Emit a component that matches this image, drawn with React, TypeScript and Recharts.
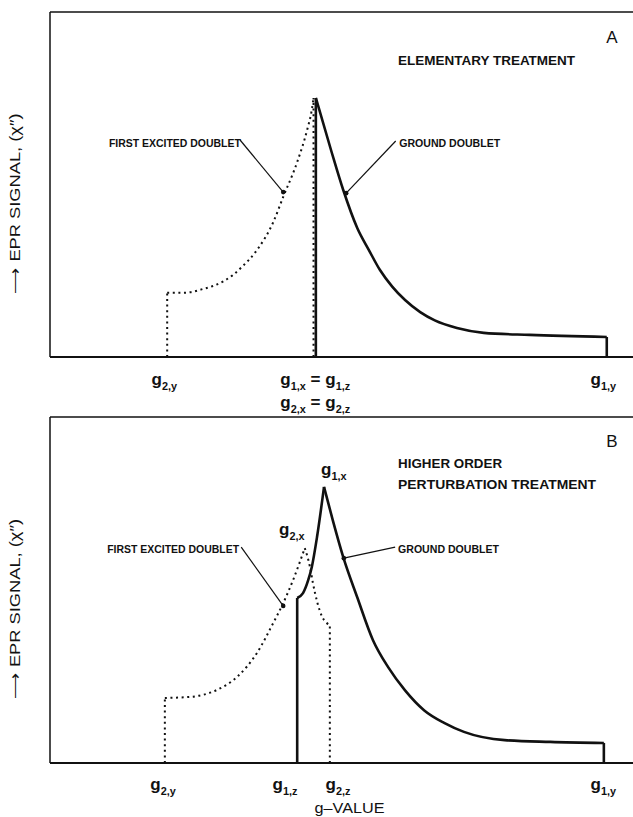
import React from 'react';
import { ComposedChart, Line, XAxis, YAxis, ReferenceLine, ReferenceDot, Label } from 'recharts';

const INK = '#111';
const FONT = "'Liberation Sans Narrow', 'Liberation Sans', Arial, sans-serif";
const MATH_FONT = "'Liberation Sans', Arial, sans-serif";

// x: position along the g-value axis, 0 = left frame, 100 = right page edge
// y: EPR signal in % of the frame height

// panel A — elementary treatment
const A_EXC_RISE_X = [20.1, 22.3, 24.2, 26.2, 28.0, 29.8, 31.4, 32.9, 35.5, 38.3, 40.0, 42.4, 44.1, 44.9, 45.2];
const A_EXC_RISE_Y = [18.6, 18.6, 18.8, 19.7, 20.6, 22.0, 23.8, 26.1, 31.0, 39.1, 46.4, 56.5, 65.8, 71.6, 75.1];
const A_GND_FALL_X = [45.6, 48.2, 50.3, 52.7, 54.7, 56.6, 58.7, 60.9, 63.5, 66.0, 69.8, 74.4, 82.3, 95.5];
const A_GND_FALL_Y = [75.1, 60.0, 48.4, 37.4, 31.0, 25.2, 20.4, 16.5, 13.0, 10.6, 8.4, 7.0, 6.4, 5.8];
const A_TICKS = [19.6, 45.5, 94.9];
const A_TICK_LABELS = ['g_{2,y}', 'g_{1,x} = g_{1,z}|g_{2,x} = g_{2,z}', 'g_{1,y}'];

// panel B — higher order perturbation treatment
const B_EXC_RISE_X = [19.7, 24.0, 28.6, 32.1, 35.5, 38.3, 40.0, 41.7, 43.7];
const B_EXC_RISE_Y = [18.8, 19.1, 21.1, 24.9, 31.8, 40.5, 46.2, 52.9, 62.1];
const B_EXC_FALL_X = [43.7, 44.6, 45.1, 46.7, 48.0];
const B_EXC_FALL_Y = [62.1, 56.6, 52.0, 42.2, 39.9];
const B_GND_RISE_X = [42.4, 43.4, 44.3, 44.9, 45.8, 47.0];
const B_GND_RISE_Y = [47.7, 49.1, 52.9, 56.6, 65.3, 79.8];
const B_GND_FALL_X = [47.0, 48.5, 50.3, 52.7, 55.4, 58.0, 60.9, 64.2, 67.6, 71.0, 78.0, 85.8, 95.0];
const B_GND_FALL_Y = [79.8, 70.2, 59.5, 47.9, 35.5, 27.7, 21.0, 15.2, 11.6, 9.0, 6.6, 6.1, 5.8];
const B_TICKS = [19.4, 40.3, 49.4, 94.9];
const B_TICK_LABELS = ['g_{2,y}', 'g_{1,z}', 'g_{2,z}', 'g_{1,y}'];

type Pt = { x: number; y: number };
type Note = { x: number; y: number; text: string; size: number; width?: number; anchor?: string; bold?: boolean; math?: boolean };

const A_NOTES: Note[] = [
  { x: 96.4, y: 91.0, text: 'A', size: 17, anchor: 'middle', bold: false },
  { x: 59.7, y: 84.6, text: 'ELEMENTARY  TREATMENT', size: 13, width: 177 },
  { x: 10.1, y: 60.9, text: 'FIRST EXCITED DOUBLET', size: 11, width: 132 },
  { x: 59.9, y: 60.9, text: 'GROUND DOUBLET', size: 11, width: 101 },
];
const A_ARROWS = [
  [32.6, 62.9, 40.0, 47.8],
  [59.3, 62.6, 50.8, 47.5],
];

const B_NOTES: Note[] = [
  { x: 96.4, y: 91.3, text: 'B', size: 17, anchor: 'middle', bold: false },
  { x: 59.7, y: 85.3, text: 'HIGHER  ORDER', size: 13, width: 104 },
  { x: 59.7, y: 79.2, text: 'PERTURBATION  TREATMENT', size: 13, width: 198 },
  { x: 46.5, y: 83.2, text: 'g_{1,x}', size: 17, math: true },
  { x: 39.3, y: 65.9, text: 'g_{2,x}', size: 17, math: true },
  { x: 9.8, y: 60.7, text: 'FIRST EXCITED DOUBLET', size: 11, width: 132 },
  { x: 59.7, y: 60.7, text: 'GROUND DOUBLET', size: 11, width: 101 },
];
const B_ARROWS = [
  [32.8, 62.4, 40.0, 45.4],
  [59.2, 62.4, 50.4, 59.2],
];

const zip = (xs: number[], ys: number[]): Pt[] => xs.map((x, i) => ({ x, y: ys[i] }));
const drop = (p: Pt): Pt[] => [{ x: p.x, y: 0 }, p];
const last = (a: Pt[]) => a[a.length - 1];

function mathSpans(s: string, size: number) {
  const re = /_\{([^}]*)\}|([^_]+)/g;
  const out: React.ReactNode[] = [];
  let m: RegExpExecArray | null;
  let lowered = false;
  let k = 0;
  const shift = size * 0.28;
  while ((m = re.exec(s))) {
    if (m[1] !== undefined) {
      out.push(<tspan key={k++} fontSize={size * 0.64} dy={shift}>{m[1]}</tspan>);
      lowered = true;
    } else {
      out.push(<tspan key={k++} dy={lowered ? -shift : 0}>{m[2]}</tspan>);
      lowered = false;
    }
  }
  return out;
}

type Trace = { pts: Pt[]; dotted?: boolean; curve?: boolean };

function Panel(props: {
  height: number;
  top: number;
  axisH: number;
  traces: Trace[];
  ticks: number[];
  tickLabels: string[];
  tickDy: number;
  notes: Note[];
  arrows: number[][];
  xLabel?: string;
}) {
  const { height, top, axisH, traces, ticks, tickLabels, tickDy, notes, arrows, xLabel } = props;

  const renderTick = (p: any) => {
    const idx = ticks.indexOf(p.payload.value);
    const lines = (tickLabels[idx] || '').split('|');
    return (
      <g>
        {lines.map((ln, i) => (
          <text key={i} x={p.x} y={p.y + tickDy + i * 23} textAnchor="middle" fontFamily={MATH_FONT}
            fontWeight="bold" fontSize={17} fill={INK}>
            {mathSpans(ln, 17)}
          </text>
        ))}
      </g>
    );
  };

  const yLabel = (p: any) => {
    const vb = p.viewBox;
    const cx = vb.x + vb.width - 30;
    const cy = vb.y + vb.height / 2 + 19;
    return (
      <text x={cx} y={cy} transform={`rotate(-90 ${cx} ${cy})`} textAnchor="middle" fontFamily={FONT}
        fontSize={15} fill={INK} textLength={180} lengthAdjust="spacingAndGlyphs">
        {'⟶  EPR SIGNAL, (χ″)'}
      </text>
    );
  };

  const xLabelContent = (p: any) => {
    const vb = p.viewBox;
    return (
      <text x={vb.x + vb.width / 2 + 8} y={vb.y + 50} textAnchor="middle" fontFamily={FONT}
        fontSize={15} fill={INK} textLength={70} lengthAdjust="spacingAndGlyphs">
        {xLabel}
      </text>
    );
  };

  return (
    <div style={{ position: 'absolute', left: 0, top }}>
      <ComposedChart width={633} height={height} margin={{ top: 12, right: 0, bottom: 0, left: 48 }}>
        <XAxis type="number" dataKey="x" domain={[0, 100]} ticks={ticks} interval={0} tickLine={false}
          tickSize={0} tickMargin={0} height={axisH} tick={renderTick}
          axisLine={{ stroke: INK, strokeWidth: 2 }}>
          {xLabel ? <Label content={xLabelContent} /> : null}
        </XAxis>
        <YAxis type="number" domain={[0, 100]} width={2} tick={false} tickLine={false}
          axisLine={{ stroke: INK, strokeWidth: 1.5 }}>
          <Label content={yLabel} />
        </YAxis>
        <ReferenceLine y={100} stroke={INK} strokeWidth={1.5} />
        {traces.map((t, i) => (
          <Line key={`t${i}`} data={t.pts} dataKey="y" type={t.curve ? 'monotone' : 'linear'}
            stroke={INK} strokeWidth={t.dotted ? 2 : 2.6} strokeDasharray={t.dotted ? '2 3.6' : undefined}
            dot={false} activeDot={false} isAnimationActive={false} />
        ))}
        {arrows.map((a, i) => (
          <ReferenceLine key={`a${i}`} segment={[{ x: a[0], y: a[1] }, { x: a[2], y: a[3] }]}
            stroke={INK} strokeWidth={1.2} ifOverflow="visible" />
        ))}
        {arrows.map((a, i) => (
          <ReferenceDot key={`h${i}`} x={a[2]} y={a[3]} r={2.3} fill={INK} stroke="none" ifOverflow="visible" />
        ))}
        {notes.map((n, i) => (
          <ReferenceDot key={`n${i}`} x={n.x} y={n.y} r={0} ifOverflow="visible"
            shape={(p: any) => (
              <text x={p.cx} y={p.cy} textAnchor={n.anchor || 'start'} fontSize={n.size} fill={INK}
                fontFamily={n.math ? MATH_FONT : FONT} fontWeight={n.bold === false ? 'normal' : 'bold'}
                textLength={n.width} lengthAdjust={n.width ? 'spacingAndGlyphs' : undefined}>
                {n.math ? mathSpans(n.text, n.size) : n.text}
              </text>
            )} />
        ))}
      </ComposedChart>
    </div>
  );
}

export default function App() {
  const aExc = zip(A_EXC_RISE_X, A_EXC_RISE_Y);
  const aGnd = zip(A_GND_FALL_X, A_GND_FALL_Y);
  const bExcR = zip(B_EXC_RISE_X, B_EXC_RISE_Y);
  const bExcF = zip(B_EXC_FALL_X, B_EXC_FALL_Y);
  const bGndR = zip(B_GND_RISE_X, B_GND_RISE_Y);
  const bGndF = zip(B_GND_FALL_X, B_GND_FALL_Y);

  const tracesA: Trace[] = [
    { pts: aExc, dotted: true, curve: true },
    { pts: drop(aExc[0]), dotted: true },
    { pts: drop(last(aExc)), dotted: true },
    { pts: aGnd, curve: true },
    { pts: drop(aGnd[0]) },
    { pts: drop(last(aGnd)) },
  ];
  const tracesB: Trace[] = [
    { pts: bExcR, dotted: true, curve: true },
    { pts: bExcF, dotted: true, curve: true },
    { pts: drop(bExcR[0]), dotted: true },
    { pts: drop(last(bExcF)), dotted: true },
    { pts: bGndR, curve: true },
    { pts: bGndF, curve: true },
    { pts: drop(bGndR[0]) },
    { pts: drop(last(bGndF)) },
  ];

  return (
    <div style={{ position: 'absolute', left: 0, top: 0, width: 633, height: 817, background: '#fff' }}>
      <Panel height={415} top={0} axisH={58} traces={tracesA} ticks={A_TICKS} tickLabels={A_TICK_LABELS}
        tickDy={28} notes={A_NOTES} arrows={A_ARROWS} />
      <Panel height={412} top={405} axisH={54} traces={tracesB} ticks={B_TICKS} tickLabels={B_TICK_LABELS}
        tickDy={27} notes={B_NOTES} arrows={B_ARROWS} xLabel="g–VALUE" />
    </div>
  );
}
